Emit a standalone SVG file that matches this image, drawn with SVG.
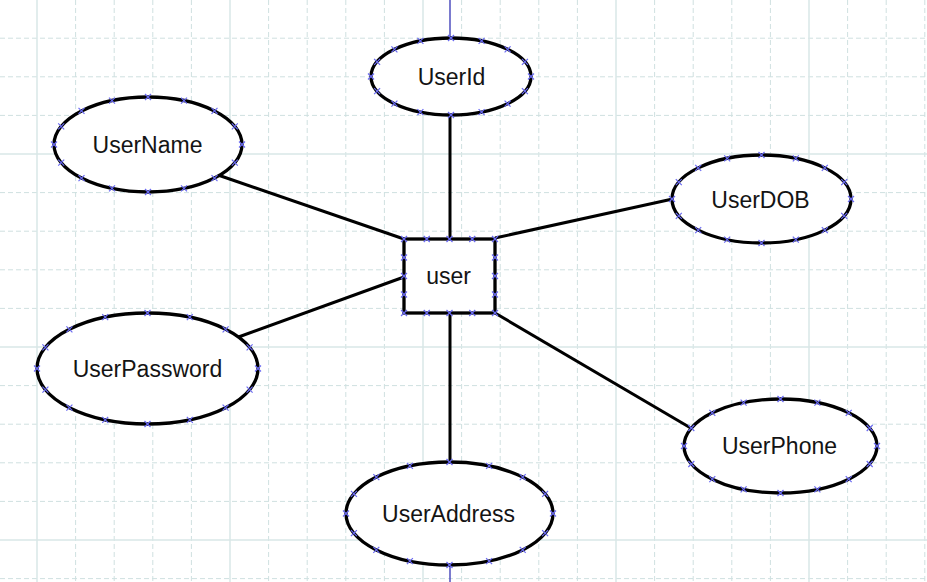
<svg xmlns="http://www.w3.org/2000/svg" width="927" height="582" viewBox="0 0 927 582">
<defs>
<style>
.minor{fill:none;stroke:#cfe0e0;stroke-width:1;stroke-dasharray:5 3}
.major{fill:none;stroke:#d9e7e7;stroke-width:1.5}
.conn{fill:none;stroke:#000;stroke-width:3}
.guide{fill:none;stroke:#3535b5;stroke-width:1.3}
.shape{fill:#fff;stroke:#000;stroke-width:3.3}
.pts{fill:none;stroke:none;marker-start:url(#xm);marker-mid:url(#xm);marker-end:url(#xm)}
.lbl{font-family:"Liberation Sans",Arial,sans-serif;font-size:23px;fill:#141414;text-anchor:middle}
</style>
<marker id="xm" markerUnits="userSpaceOnUse" viewBox="0 0 8 8" refX="4" refY="4" markerWidth="8" markerHeight="8" overflow="visible">
<path d="M1,1 L7,7 M7,1 L1,7" fill="none" stroke="#6a6af2" stroke-width="1.2"/>
</marker>
</defs>
<rect width="927" height="582" fill="#fff"/>
<g id="grid">
<path class="minor" d="M75.6,0V582M114.2,0V582M152.8,0V582M191.4,0V582M268.6,0V582M307.2,0V582M345.8,0V582M384.4,0V582M461.6,0V582M500.2,0V582M538.8,0V582M577.4,0V582M654.6,0V582M693.2,0V582M731.8,0V582M770.4,0V582M847.6,0V582M886.2,0V582M924.8,0V582"/>
<path class="minor" d="M0,38.2H927M0,76.8H927M0,115.4H927M0,192.6H927M0,231.2H927M0,269.8H927M0,308.4H927M0,385.6H927M0,424.2H927M0,462.8H927M0,501.4H927M0,578.6H927"/>
<path class="major" d="M37,0V582M230,0V582M423,0V582M616,0V582M809,0V582M0,154H927M0,347H927M0,540H927"/>
</g>
<g id="connectors">
<path class="guide" d="M450,0V40M450,563V582"/>
<line class="conn" x1="450" y1="110" x2="450" y2="240"/>
<line class="conn" x1="450" y1="312" x2="450" y2="465"/>
<line class="conn" x1="218" y1="175" x2="404" y2="239"/>
<line class="conn" x1="676" y1="198.2" x2="495" y2="238"/>
<line class="conn" x1="233" y1="339" x2="404" y2="277"/>
<line class="conn" x1="495" y1="313" x2="695" y2="430.5"/>
</g>
<g id="user">
<rect class="shape" x="404" y="239" width="91" height="74"/>
<polyline class="pts" points="404,239 426.75,239 449.5,239 472.25,239 495,239 495,257.5 495,276 495,294.5 495,313 472.25,313 449.5,313 426.75,313 404,313 404,294.5 404,276 404,257.5"/>
<text class="lbl" x="448.5" y="284">user</text>
</g>
<g id="userid">
<ellipse class="shape" cx="451" cy="76.5" rx="80" ry="38.5"/>
<polyline class="pts" points="531,76.5 524.9,91.2 507.6,103.7 481.6,112.1 451,115 420.4,112.1 394.4,103.7 377.1,91.2 371,76.5 377.1,61.8 394.4,49.3 420.4,40.9 451,38 481.6,40.9 507.6,49.3 524.9,61.8"/>
<text class="lbl" x="451.5" y="84.5">UserId</text>
</g>
<g id="username">
<ellipse class="shape" cx="148" cy="144.5" rx="94" ry="47.5"/>
<polyline class="pts" points="242,144.5 234.8,162.7 214.5,178.1 184,188.4 148,192 112,188.4 81.5,178.1 61.2,162.7 54,144.5 61.2,126.3 81.5,110.9 112,100.6 148,97 184,100.6 214.5,110.9 234.8,126.3"/>
<text class="lbl" x="147.5" y="152.5">UserName</text>
</g>
<g id="userdob">
<ellipse class="shape" cx="761.5" cy="199" rx="89.5" ry="44"/>
<polyline class="pts" points="851,199 844.2,215.8 824.8,230.1 795.8,239.7 761.5,243 727.2,239.7 698.2,230.1 678.8,215.8 672,199 678.8,182.2 698.2,167.9 727.2,158.3 761.5,155 795.8,158.3 824.8,167.9 844.2,182.2"/>
<text class="lbl" x="760.5" y="207.5">UserDOB</text>
</g>
<g id="userpassword">
<ellipse class="shape" cx="147.5" cy="368.5" rx="110.5" ry="55.5"/>
<polyline class="pts" points="258,368.5 249.6,389.7 225.6,407.7 189.8,419.8 147.5,424 105.2,419.8 69.4,407.7 45.4,389.7 37,368.5 45.4,347.3 69.4,329.3 105.2,317.2 147.5,313 189.8,317.2 225.6,329.3 249.6,347.3"/>
<text class="lbl" x="147.5" y="377">UserPassword</text>
</g>
<g id="useraddress">
<ellipse class="shape" cx="449.5" cy="513.5" rx="103.5" ry="51.5"/>
<polyline class="pts" points="553,513.5 545.1,533.2 522.7,549.9 489.1,561.1 449.5,565 409.9,561.1 376.3,549.9 353.9,533.2 346,513.5 353.9,493.8 376.3,477.1 409.9,465.9 449.5,462 489.1,465.9 522.7,477.1 545.1,493.8"/>
<text class="lbl" x="448.5" y="521.5">UserAddress</text>
</g>
<g id="userphone">
<ellipse class="shape" cx="780.5" cy="446" rx="96.5" ry="47"/>
<polyline class="pts" points="877,446 869.7,464 848.7,479.2 817.4,489.4 780.5,493 743.6,489.4 712.3,479.2 691.3,464 684,446 691.3,428 712.3,412.8 743.6,402.6 780.5,399 817.4,402.6 848.7,412.8 869.7,428"/>
<text class="lbl" x="779.5" y="454">UserPhone</text>
</g>
</svg>
